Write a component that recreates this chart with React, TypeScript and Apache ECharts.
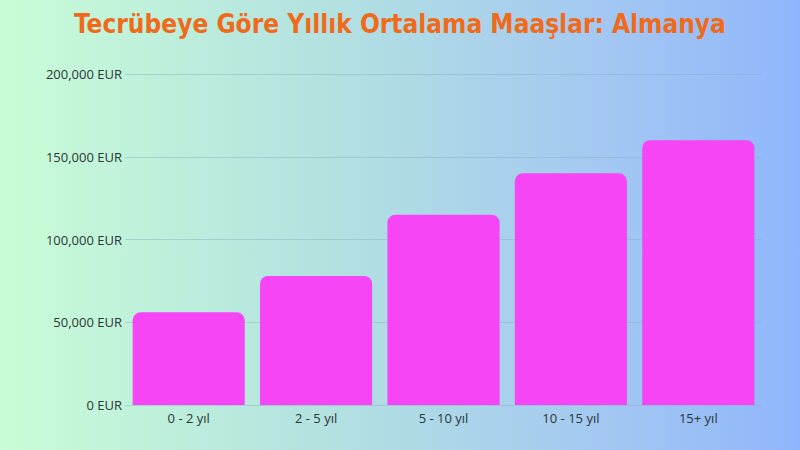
import React, { useEffect, useRef } from "react";
import * as echarts from "echarts";

const categories = ["0 - 2 yıl", "2 - 5 yıl", "5 - 10 yıl", "10 - 15 yıl", "15+ yıl"];
const salaries = [56000, 78000, 115000, 140000, 160000];
const titleText = "Tecrübeye Göre Yıllık Ortalama Maaşlar: Almanya";

export default function App() {
  const ref = useRef<HTMLDivElement>(null);
  useEffect(() => {
    if (!ref.current) return;
    const chart = echarts.init(ref.current, undefined, { renderer: "svg" });
    chart.setOption({
      animation: false,
      backgroundColor: "transparent",
      title: {
        text: titleText,
        left: "center",
        top: 6,
        textStyle: {
          fontFamily: "DejaVu Sans Condensed",
          fontWeight: "bold",
          fontSize: 26,
          color: "#f06a1c",
        },
      },
      grid: { left: 125, right: 38, top: 74, bottom: 45 },
      xAxis: {
        type: "category",
        data: categories,
        axisLine: { show: false },
        axisTick: { show: false },
        axisLabel: { color: "#2a3535", fontSize: 13, fontFamily: "Open Sans", margin: 6 },
      },
      yAxis: {
        type: "value",
        min: 0,
        max: 200000,
        interval: 50000,
        axisLine: { show: false },
        axisTick: { show: false },
        splitLine: { lineStyle: { color: "rgba(140,170,190,0.45)", width: 1 } },
        axisLabel: {
          color: "#2a3535",
          fontSize: 13,
          fontFamily: "Open Sans",
          margin: 3,
          formatter: (v: number) => v.toLocaleString("en-US") + " EUR",
        },
      },
      series: [
        {
          type: "bar",
          data: salaries,
          barCategoryGap: "12%",
          itemStyle: { color: "#f545f5", borderRadius: [8, 8, 0, 0] },
        },
      ],
    });
    return () => chart.dispose();
  }, []);
  return (
    <div
      style={{
        position: "fixed",
        left: 0,
        top: 0,
        width: 800,
        height: 450,
        background: "linear-gradient(to right, #c8fdd6 0%, #b3e2e0 40%, #a4c8f2 75%, #8fb6fb 100%)",
      }}
    >
      <div ref={ref} style={{ width: 800, height: 450 }} />
    </div>
  );
}
